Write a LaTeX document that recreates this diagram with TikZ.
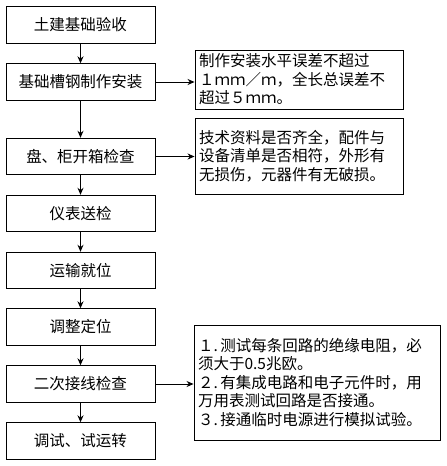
\documentclass[tikz,border=0pt]{standalone}
\usepackage{fontspec}
\setmainfont{Noto Sans CJK SC}
\usetikzlibrary{arrows.meta}
\begin{document}
\begin{tikzpicture}[x=1pt,y=-1pt,
  box/.style={draw,line width=0.9pt,minimum width=149pt,minimum height=36.5pt,inner sep=0pt,
    font=\fontsize{15.5}{18.5}\selectfont},
  note/.style={draw,line width=0.9pt,inner xsep=4pt,inner ysep=0pt,align=left,
    font=\fontsize{15.5}{18.5}\selectfont},
  arr/.style={line width=0.9pt,-{Stealth[length=7pt,width=6pt]}}]
\useasboundingbox (0,0) rectangle (447,466);
\node[box] (b1) at (80.5,25) {土建基础验收};
\node[box] (b2) at (80.5,82) {基础槽钢制作安装};
\node[box] (b3) at (80.5,156.5) {盘、柜开箱检查};
\node[box] (b4) at (80.5,213.5) {仪表送检};
\node[box] (b5) at (80.5,270.5) {运输就位};
\node[box] (b6) at (80.5,327) {调整定位};
\node[box] (b7) at (80.5,384) {二次接线检查};
\node[box] (b8) at (80.5,441) {调试、试运转};
\node[note,text width=200pt,minimum height=59pt] (na) at (299,79.5)
  {制作安装水平误差不超过\\１ｍｍ／ｍ，全长总误差不\\超过５ｍｍ。};
\node[note,text width=200pt,minimum height=76pt] (nb) at (299,156)
  {技术资料是否齐全，配件与\\设备清单是否相符，外形有\\无损伤，元器件有无破损。};
\node[note,text width=238pt,minimum height=115pt] (nc) at (317,382.5)
  {１.\,测试每条回路的绝缘电阻，必\\须大于0.5兆欧。\\２.\,有集成电路和电子元件时，用\\万用表测试回路是否接通。\\３.\,接通临时电源进行模拟试验。};
\draw[arr] (b1) -- (b2);
\draw[arr] (b2) -- (b3);
\draw[arr] (b3) -- (b4);
\draw[arr] (b4) -- (b5);
\draw[arr] (b5) -- (b6);
\draw[arr] (b6) -- (b7);
\draw[arr] (b7) -- (b8);
\draw[arr] (b2.east) -- (b2.east -| na.west);
\draw[arr] (b3.east) -- (b3.east -| nb.west);
\draw[arr] (b7.east) -- (b7.east -| nc.west);
\end{tikzpicture}
\end{document}
